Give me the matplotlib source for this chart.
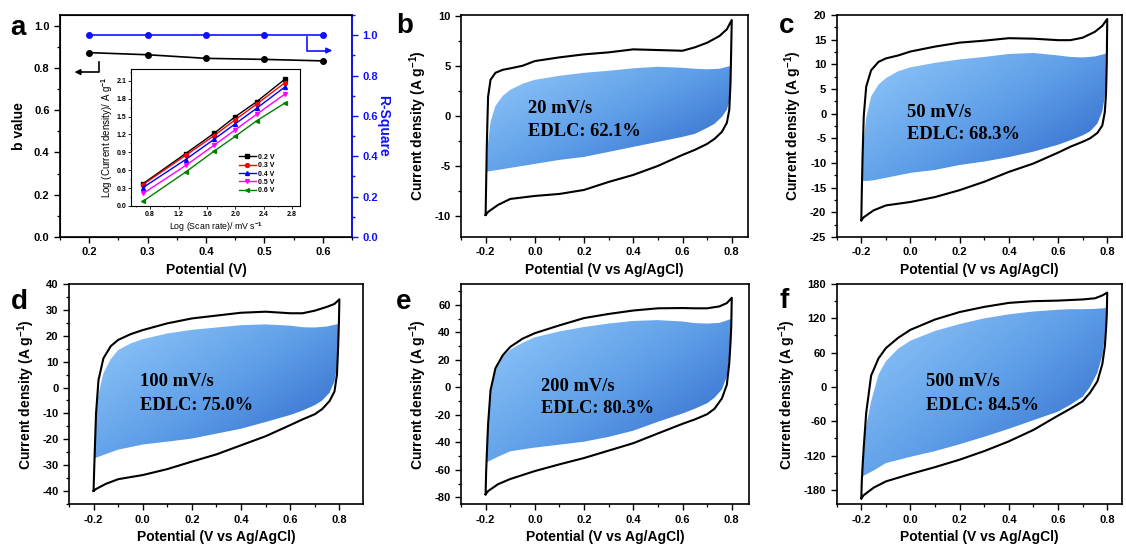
import numpy as np
import matplotlib
matplotlib.use('Agg')
import matplotlib.pyplot as plt
from matplotlib.patches import Polygon
from matplotlib.colors import LinearSegmentedColormap
from matplotlib.ticker import MultipleLocator

plt.rcParams['font.family'] = ['Liberation Sans', 'DejaVu Sans']
plt.rcParams['font.weight'] = 'bold'
plt.rcParams['axes.labelweight'] = 'bold'
plt.rcParams['axes.unicode_minus'] = False
plt.rcParams['mathtext.fontset'] = 'custom'
plt.rcParams['mathtext.rm'] = 'Liberation Sans'
plt.rcParams['mathtext.bf'] = 'Liberation Sans:bold'
plt.rcParams['mathtext.default'] = 'bf'

# ---------------- Panel a data ----------------
potential_a = [0.2, 0.3, 0.4, 0.5, 0.6]
b_value = [0.872, 0.862, 0.845, 0.840, 0.833]
r_square = [0.999, 0.999, 0.999, 0.999, 0.999]

log_scan_rate = [0.70, 1.30, 1.70, 2.00, 2.30, 2.70]
inset_labels = ['0.2 V', '0.3 V', '0.4 V', '0.5 V', '0.6 V']
log_j_02 = [0.376, 0.88, 1.22, 1.50, 1.75, 2.13]
log_j_03 = [0.36, 0.85, 1.18, 1.45, 1.71, 2.07]
log_j_04 = [0.31, 0.78, 1.12, 1.38, 1.64, 2.00]
log_j_05 = [0.21, 0.68, 1.02, 1.28, 1.54, 1.88]
log_j_06 = [0.08, 0.57, 0.92, 1.17, 1.43, 1.73]

# ---------------- CV data (panels b-f) ----------------
CV_UP_V = [-0.2, -0.198, -0.195, -0.19, -0.18, -0.16, -0.13, -0.1, -0.05, 0.0, 0.1,
           0.2, 0.3, 0.4, 0.5, 0.6, 0.65, 0.7, 0.75, 0.78, 0.8]
CV_DN_V = [0.8, 0.798, 0.795, 0.79, 0.78, 0.76, 0.73, 0.7, 0.65, 0.6, 0.5, 0.4,
           0.3, 0.2, 0.1, 0.0, -0.1, -0.15, -0.19, -0.2]
EDLC_UP_V = [-0.197, -0.195, -0.19, -0.18, -0.16, -0.13, -0.1, -0.05, 0.0, 0.1, 0.2,
             0.3, 0.4, 0.5, 0.6, 0.65, 0.7, 0.75, 0.797]
EDLC_DN_V = [0.797, 0.795, 0.79, 0.78, 0.76, 0.73, 0.7, 0.65, 0.6, 0.5, 0.4, 0.3,
             0.2, 0.1, 0.0, -0.1, -0.15, -0.19, -0.197]

cv_up_20 = [-9.9, -7.0, -2.8, 1.9, 3.6, 4.3, 4.6, 4.74, 5.0, 5.47, 5.84, 6.14, 6.34,
            6.64, 6.57, 6.5, 6.84, 7.3, 7.97, 8.64, 9.57]
cv_dn_20 = [9.57, 7.0, 3.3, 0.6, -0.7, -1.6, -2.3, -2.8, -3.4, -3.9, -5.0, -5.9, -6.6,
            -7.4, -7.8, -8.0, -8.3, -8.9, -9.6, -9.9]
edlc_up_20 = [-5.6, -4.7, -2.7, -0.6, 1.0, 2.0, 2.6, 3.2, 3.6, 4.0, 4.3, 4.5, 4.75,
              4.9, 4.8, 4.7, 4.65, 4.7, 5.0]
edlc_dn_20 = [5.0, 2.6, 1.4, 0.6, -0.1, -0.8, -1.2, -1.8, -2.1, -2.6, -3.1, -3.6, -4.1,
              -4.4, -4.8, -5.2, -5.4, -5.55, -5.6]

cv_up_50 = [-21.6, -16, -9, -0.5, 5.5, 8.8, 10.5, 11.2, 11.8, 12.6, 13.6, 14.4, 14.8,
            15.3, 15.2, 14.9, 14.9, 15.4, 16.6, 17.8, 19.2]
cv_dn_50 = [19.2, 10, 4, 0.3, -2.4, -3.9, -5.0, -5.7, -6.7, -7.9, -10.1, -11.8, -13.8,
            -15.5, -16.9, -17.9, -18.6, -19.6, -21.0, -21.6]
edlc_up_50 = [-13.7, -9.5, -5.5, -0.8, 3.5, 5.9, 7.2, 8.6, 9.4, 10.3, 11.0, 11.5, 12.1,
              12.3, 11.8, 11.5, 11.4, 11.6, 12.2]
edlc_dn_50 = [12.2, 7.0, 3.5, 0.5, -2.0, -3.6, -4.4, -5.4, -6.3, -7.7, -8.8, -9.7, -10.4,
              -11.4, -12.0, -13.0, -13.5, -13.7, -13.7]

cv_up_100 = [-39.9, -33, -24.2, -10, 2.9, 11.3, 16.0, 18.4, 20.6, 22.2, 24.8, 26.7, 27.8,
             28.9, 29.3, 28.7, 28.7, 29.7, 31.2, 32.3, 34.1]
cv_dn_100 = [34.1, 25, 16, 5, -1.5, -5.2, -8.3, -10.3, -12.3, -14.5, -18.8, -22.3, -25.8,
             -28.6, -31.5, -33.8, -35.4, -37.2, -39.2, -39.9]
edlc_up_100 = [-27.4, -17, -9, -2.5, 5.5, 11.0, 14.5, 17.0, 18.7, 20.9, 22.3, 23.2, 24.1,
               24.4, 23.9, 23.3, 23.2, 23.6, 24.6]
edlc_dn_100 = [24.6, 15, 8, 2.4, -2.0, -5.0, -6.8, -8.9, -10.6, -13.3, -15.9, -17.8, -19.7,
               -20.9, -22.0, -24.0, -25.7, -27.1, -27.4]

cv_up_200 = [-77.8, -62, -48, -27, -2, 14, 23.5, 29.5, 35.5, 39.5, 45.2, 50.5, 53.5, 56,
             57.6, 57.8, 57.6, 57.6, 59.0, 61.4, 65.3]
cv_dn_200 = [65.3, 45, 33, 18, 2, -8, -15.5, -19.5, -23.3, -26.5, -33.5, -40.6, -46.0,
             -51.4, -56.0, -60.9, -66.7, -70.5, -75.5, -77.8]
edlc_up_200 = [-54.8, -38, -20, -2, 12.5, 22.5, 27.5, 32.5, 36.5, 40.8, 44.0, 46.5, 48.4,
               49.0, 48.0, 46.8, 46.5, 47.0, 49.8]
edlc_dn_200 = [49.8, 38, 22, 8, -1.5, -7.5, -11.5, -15.5, -19.0, -25.0, -31.5, -36.0,
               -39.5, -41.7, -43.8, -46.5, -50.5, -54.0, -54.8]

cv_up_500 = [-194.6, -165, -140, -105, -45, 20, 50, 68, 86, 100, 118, 131, 140, 147, 150,
             151, 152, 153, 155, 160, 165]
cv_dn_500 = [165, 125, 100, 70, 40, 10, -10, -25, -38, -50, -75, -95, -112, -127, -140,
             -152, -165, -176, -189, -194.6]
edlc_up_500 = [-157.9, -130, -100, -68, -25, 22, 45, 67, 81, 98, 110, 120, 127, 132, 135,
               136, 136, 136.5, 138]
edlc_dn_500 = [138, 115, 88, 55, 25, 0, -17, -31, -43, -58, -73, -87, -100, -112, -122,
               -133, -146, -155, -157.9]

scan_labels = ['20 mV/s', '50 mV/s', '100 mV/s', '200 mV/s', '500 mV/s']
edlc_labels = ['EDLC: 62.1%', 'EDLC: 68.3%', 'EDLC: 75.0%', 'EDLC: 80.3%', 'EDLC: 84.5%']

# ---------------- Figure ----------------
W, H = 1126, 544
fig = plt.figure(figsize=(W / 100, H / 100), dpi=100)


def px_axes(l, r, t, b):
    return fig.add_axes([l / W, 1 - b / H, (r - l) / W, (b - t) / H])


def style(ax, lw=1.2):
    for s in ax.spines.values():
        s.set_linewidth(lw)
    ax.tick_params(which='major', direction='out', length=4, width=1.0, labelsize=8,
                   top=False, right=False)
    ax.tick_params(which='minor', direction='out', length=2.2, width=0.9,
                   top=False, right=False)
    for lab in ax.get_xticklabels() + ax.get_yticklabels():
        lab.set_fontweight('bold')


cmap = LinearSegmentedColormap.from_list('edlc', ['#93c9fa', '#5f9fe8', '#2a63c8'])


def gradient_fill(ax, xs, ys):
    poly = Polygon(np.column_stack([xs, ys]), closed=True, facecolor='none',
                   edgecolor='none', transform=ax.transData)
    ax.add_patch(poly)
    n = 200
    u = np.linspace(0, 1, n)
    U, V = np.meshgrid(u, u)
    G = 0.55 * U + 0.45 * (1 - V)
    im = ax.imshow(G, extent=(min(xs), max(xs), min(ys), max(ys)), origin='lower',
                   aspect='auto', cmap=cmap, vmin=0, vmax=1, zorder=1,
                   interpolation='bilinear')
    im.set_clip_path(poly)


# ---- panel a ----
axa = px_axes(60, 352, 15, 237)
axa.plot(potential_a, b_value, color='black', lw=1.2, marker='o', ms=4, zorder=3)
axa.set_xlim(0.15, 0.65)
axa.set_ylim(0, 1.05)
axa.xaxis.set_major_locator(MultipleLocator(0.1))
axa.xaxis.set_minor_locator(MultipleLocator(0.05))
axa.yaxis.set_major_locator(MultipleLocator(0.2))
axa.yaxis.set_minor_locator(MultipleLocator(0.1))
axa.set_xlabel('Potential (V)', fontsize=10, fontweight='bold')
axa.set_ylabel('b value', fontsize=10, fontweight='bold', labelpad=6)
style(axa)

axr = axa.twinx()
axr.plot(potential_a, r_square, color='#1010ff', lw=1.2, marker='o', ms=4)
axr.set_ylim(0, 1.1)
axr.yaxis.set_major_locator(MultipleLocator(0.2))
axr.yaxis.set_minor_locator(MultipleLocator(0.1))
axr.spines['right'].set_color('#1010ff')
axr.spines['right'].set_linewidth(1.2)
axr.tick_params(axis='y', which='both', colors='#1010ff', direction='out', labelsize=8,
                width=1.0)
axr.tick_params(axis='y', which='major', length=4)
axr.tick_params(axis='y', which='minor', length=2.2)
for lab in axr.get_yticklabels():
    lab.set_fontweight('bold')
axr.set_ylabel('R-Square', color='#1010ff', fontsize=10, fontweight='bold',
               rotation=270, labelpad=9)

# arrows in panel a
axa.plot([0.217, 0.217, 0.18], [0.827, 0.78, 0.78], color='black', lw=1.2)
axa.annotate('', xy=(0.170, 0.78), xytext=(0.19, 0.78),
             arrowprops=dict(arrowstyle='-|>', color='black', lw=1.2, mutation_scale=8))
axa.plot([0.5725, 0.5725, 0.61], [0.944, 0.882, 0.882], color='#1010ff', lw=1.2)
axa.annotate('', xy=(0.621, 0.882), xytext=(0.60, 0.882),
             arrowprops=dict(arrowstyle='-|>', color='#1010ff', lw=1.2, mutation_scale=8))

# inset
axi = px_axes(131, 300, 69.5, 206)
inset_series = [log_j_02, log_j_03, log_j_04, log_j_05, log_j_06]
inset_colors = ['black', 'red', 'blue', '#ff00ff', 'green']
inset_markers = ['s', 'o', '^', 'v', '<']
for ys, c, m, lab in zip(inset_series, inset_colors, inset_markers, inset_labels):
    axi.plot(log_scan_rate, ys, color=c, marker=m, ms=2.8, lw=1.0, label=lab)
axi.set_xlim(0.53, 2.91)
axi.set_ylim(0, 2.29)
axi.xaxis.set_major_locator(MultipleLocator(0.4))
axi.xaxis.set_minor_locator(MultipleLocator(0.2))
axi.yaxis.set_major_locator(MultipleLocator(0.3))
axi.yaxis.set_minor_locator(MultipleLocator(0.15))
for s in axi.spines.values():
    s.set_linewidth(0.8)
axi.tick_params(which='major', direction='out', length=2, width=0.6, labelsize=5, pad=1.5)
axi.tick_params(which='minor', direction='out', length=1, width=0.5)
axi.set_xlabel('Log (Scan rate)/ mV s$^{-1}$', fontsize=6.3, fontweight='normal',
               labelpad=2)
axi.set_ylabel('Log (Current density)/ A g$^{-1}$', fontsize=7, fontweight='normal',
               labelpad=1)
axi.legend(loc='lower right', bbox_to_anchor=(0.88, 0.05), fontsize=5, frameon=False,
           handlelength=2.4, labelspacing=0.2, borderpad=0.2, handletextpad=0.4)

# ---- CV panels ----
cv_panels = [
    ((461, 748, 15, 237), (-0.3, 0.866), (-12.1, 10.07), 5, 2.5,
     cv_up_20, cv_dn_20, edlc_up_20, edlc_dn_20, (0.233, 0.581, 0.477)),
    ((836.7, 1122, 15, 237), (-0.3, 0.86), (-25, 20), 5, 2.5,
     cv_up_50, cv_dn_50, edlc_up_50, edlc_dn_50, (0.245, 0.56, 0.46)),
    ((69, 363, 284, 504.3), (-0.3, 0.896), (-45.1, 40), 10, 5,
     cv_up_100, cv_dn_100, edlc_up_100, edlc_dn_100, (0.24, 0.556, 0.45)),
    ((461, 749, 284, 504.3), (-0.3, 0.87), (-85.1, 75.3), 20, 10,
     cv_up_200, cv_dn_200, edlc_up_200, edlc_dn_200, (0.278, 0.533, 0.436)),
    ((836.7, 1122, 284, 504.3), (-0.3, 0.86), (-205, 180), 60, 30,
     cv_up_500, cv_dn_500, edlc_up_500, edlc_dn_500, (0.313, 0.556, 0.45)),
]

for i, (box, xl, yl, ymaj, ymin_, up, dn, eup, edn, tpos) in enumerate(cv_panels):
    ax = px_axes(*box)
    gradient_fill(ax, EDLC_UP_V + EDLC_DN_V, eup + edn)
    ax.plot(CV_UP_V + CV_DN_V, up + dn, color='black', lw=1.5, zorder=3)
    ax.set_xlim(*xl)
    ax.set_ylim(*yl)
    ax.xaxis.set_major_locator(MultipleLocator(0.2))
    ax.xaxis.set_minor_locator(MultipleLocator(0.1))
    ax.yaxis.set_major_locator(MultipleLocator(ymaj))
    ax.yaxis.set_minor_locator(MultipleLocator(ymin_))
    ax.set_xlabel('Potential (V vs Ag/AgCl)', fontsize=10, fontweight='bold')
    ax.set_ylabel('Current density (A g$^{-1}$)', fontsize=10, fontweight='bold')
    style(ax)
    tx, ty1, ty2 = tpos
    ax.text(tx, ty1, scan_labels[i], transform=ax.transAxes, fontsize=13.3,
            fontfamily='Liberation Serif', fontweight='bold', va='center', ha='left',
            zorder=5)
    ax.text(tx, ty2, edlc_labels[i], transform=ax.transAxes, fontsize=13.3,
            fontfamily='Liberation Serif', fontweight='bold', va='center', ha='left',
            zorder=5)

# panel letters
for letter, x, y in [('a', 10, 35), ('b', 396, 33), ('c', 779, 33),
                     ('d', 11, 309), ('e', 396, 309), ('f', 779, 308)]:
    fig.text(x / W, 1 - y / H, letter, fontsize=20, fontweight='bold', va='baseline',
             ha='left')

fig.savefig('out.png', dpi=100)
